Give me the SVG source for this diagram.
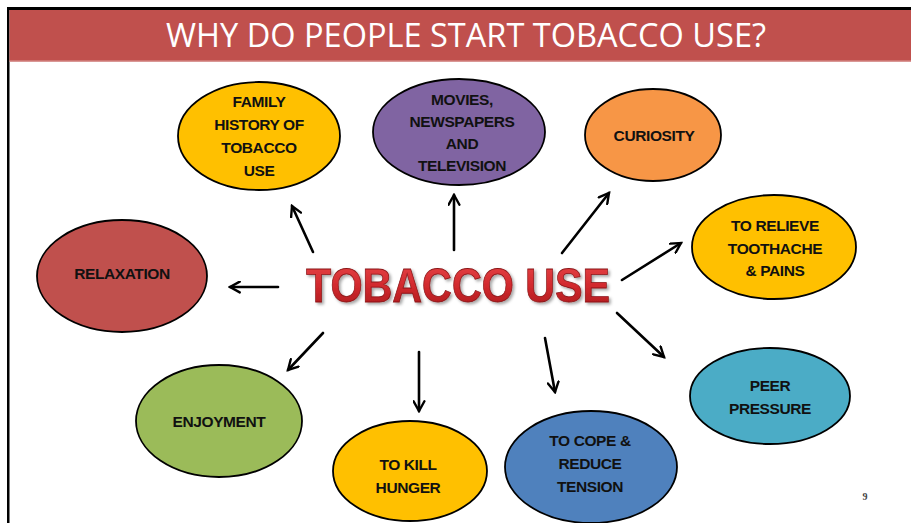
<svg xmlns="http://www.w3.org/2000/svg" width="911" height="523" viewBox="0 0 911 523">
  <style>
    .node ellipse { stroke: #000; stroke-width: 1.8; }
    .lbl { font-family: "Liberation Sans", Arial, sans-serif; font-weight: bold; font-size: 15.5px; fill: #111; text-anchor: middle; letter-spacing: -0.4px; }
    .conn line { stroke: #000; stroke-width: 2.6; stroke-linecap: round; }
  </style>
  <defs>
    <marker id="head" viewBox="0 0 12 12" refX="10" refY="6" markerWidth="5" markerHeight="5" markerUnits="strokeWidth" orient="auto">
      <path d="M1,1 L10,6 L1,11" fill="none" stroke="#000" stroke-width="2.2" stroke-linecap="round" stroke-linejoin="miter"/>
    </marker>
    <linearGradient id="redText" x1="0" y1="0" x2="0" y2="1">
      <stop offset="0" stop-color="#E8474A"/>
      <stop offset="0.5" stop-color="#D22A2E"/>
      <stop offset="1" stop-color="#A8181C"/>
    </linearGradient>
    <filter id="soft" x="-5%" y="-20%" width="110%" height="140%">
      <feGaussianBlur in="SourceAlpha" stdDeviation="1.5"/>
      <feOffset dx="1.5" dy="2" result="b"/>
      <feFlood flood-color="#000" flood-opacity="0.35"/>
      <feComposite in2="b" operator="in"/>
      <feMerge><feMergeNode/><feMergeNode in="SourceGraphic"/></feMerge>
    </filter>
  </defs>

  <rect x="0" y="0" width="911" height="523" fill="#fff"/>

  <!-- slide frame and title bar -->
  <g id="header">
    <rect x="7" y="7" width="904" height="3" fill="#000"/>
    <rect x="7" y="7" width="2.5" height="516" fill="#000"/>
    <rect x="9.5" y="10" width="901.5" height="51" fill="#C0504D"/>
    <rect x="9.5" y="60.5" width="901.5" height="1.5" fill="#D99795"/>
    <text x="466" y="47" font-family="'Open Sans', 'Liberation Sans', sans-serif" font-size="33" fill="#fff" text-anchor="middle" textLength="600" lengthAdjust="spacingAndGlyphs">WHY DO PEOPLE START TOBACCO USE?</text>
  </g>

  <!-- centre title -->
  <g id="center">
    <text x="458" y="302" font-family="'Liberation Sans', Arial, sans-serif" font-weight="bold" font-size="48" fill="url(#redText)" stroke="#8A1416" stroke-width="0.8" text-anchor="middle" textLength="304" lengthAdjust="spacingAndGlyphs" filter="url(#soft)">TOBACCO USE</text>
  </g>

  <!-- connectors -->
  <g id="connectors" class="conn">
    <line x1="313" y1="252" x2="292" y2="206" marker-end="url(#head)"/>
    <line x1="454" y1="250" x2="454" y2="195" marker-end="url(#head)"/>
    <line x1="562" y1="253" x2="609" y2="193" marker-end="url(#head)"/>
    <line x1="622" y1="280" x2="681" y2="243" marker-end="url(#head)"/>
    <line x1="617" y1="313" x2="664" y2="357" marker-end="url(#head)"/>
    <line x1="545" y1="338" x2="555" y2="392" marker-end="url(#head)"/>
    <line x1="419" y1="352" x2="419" y2="411" marker-end="url(#head)"/>
    <line x1="323" y1="333" x2="288" y2="370" marker-end="url(#head)"/>
    <line x1="278" y1="287" x2="230" y2="287" marker-end="url(#head)"/>
  </g>

  <!-- reason nodes -->
  <g id="family" class="node">
    <ellipse cx="259" cy="136" rx="81" ry="54" fill="#FFC000"/>
    <text class="lbl" x="259" y="107">FAMILY</text>
    <text class="lbl" x="259" y="130">HISTORY OF</text>
    <text class="lbl" x="259" y="153">TOBACCO</text>
    <text class="lbl" x="259" y="176">USE</text>
  </g>
  <g id="media" class="node">
    <ellipse cx="459" cy="132" rx="86" ry="53" fill="#8064A2"/>
    <text class="lbl" x="462" y="105">MOVIES,</text>
    <text class="lbl" x="462" y="127">NEWSPAPERS</text>
    <text class="lbl" x="462" y="149">AND</text>
    <text class="lbl" x="462" y="171">TELEVISION</text>
  </g>
  <g id="curiosity" class="node">
    <ellipse cx="653" cy="135" rx="68" ry="46" fill="#F79646"/>
    <text class="lbl" x="654" y="141">CURIOSITY</text>
  </g>
  <g id="toothache" class="node">
    <ellipse cx="774" cy="247" rx="82" ry="52" fill="#FFC000"/>
    <text class="lbl" x="775" y="231">TO RELIEVE</text>
    <text class="lbl" x="775" y="254">TOOTHACHE</text>
    <text class="lbl" x="775" y="276">&amp; PAINS</text>
  </g>
  <g id="peer" class="node">
    <ellipse cx="770" cy="396" rx="80" ry="48" fill="#4BACC6"/>
    <text class="lbl" x="770" y="391">PEER</text>
    <text class="lbl" x="770" y="414">PRESSURE</text>
  </g>
  <g id="tension" class="node">
    <ellipse cx="591" cy="467" rx="86" ry="56" fill="#4F81BD"/>
    <text class="lbl" x="590" y="446">TO COPE &amp;</text>
    <text class="lbl" x="590" y="469">REDUCE</text>
    <text class="lbl" x="590" y="492">TENSION</text>
  </g>
  <g id="hunger" class="node">
    <ellipse cx="410" cy="471" rx="77" ry="50" fill="#FFC000"/>
    <text class="lbl" x="408" y="470">TO KILL</text>
    <text class="lbl" x="408" y="493">HUNGER</text>
  </g>
  <g id="enjoyment" class="node">
    <ellipse cx="219" cy="421" rx="83" ry="56" fill="#9BBB59"/>
    <text class="lbl" x="219" y="427">ENJOYMENT</text>
  </g>
  <g id="relaxation" class="node">
    <ellipse cx="122" cy="276" rx="85" ry="56" fill="#C0504D"/>
    <text class="lbl" x="122" y="279">RELAXATION</text>
  </g>

  <text x="865" y="500" font-family="'Liberation Serif', serif" font-size="10" font-weight="bold" fill="#444" text-anchor="middle">9</text>
</svg>
